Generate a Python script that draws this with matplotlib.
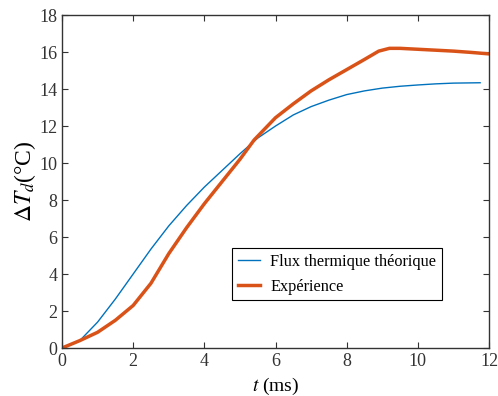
import numpy as np
import matplotlib.pyplot as plt

# values
t_theo = [0, 0.5, 1, 1.5, 2, 2.5, 3, 3.5, 4, 4.5, 5, 5.5, 6, 6.5, 7, 7.5, 8, 8.5, 9, 9.5, 10, 10.5, 11, 11.75]
dT_theo = [0, 0.4, 1.4, 2.65, 4.0, 5.35, 6.6, 7.7, 8.7, 9.6, 10.5, 11.35, 12.0, 12.6, 13.05, 13.4, 13.7, 13.9, 14.05, 14.15, 14.22, 14.28, 14.32, 14.34]

t_exp = [0, 0.5, 1, 1.5, 2, 2.5, 3, 3.5, 4, 4.5, 5, 5.4, 6, 6.5, 7, 7.5, 8, 8.5, 8.9, 9.2, 9.5, 10, 10.5, 11, 11.5, 12]
dT_exp = [0, 0.4, 0.85, 1.5, 2.3, 3.5, 5.1, 6.5, 7.8, 9.0, 10.2, 11.25, 12.45, 13.2, 13.9, 14.5, 15.05, 15.6, 16.05, 16.2, 16.2, 16.15, 16.1, 16.05, 15.98, 15.9]

plt.rcParams['font.family'] = ['Liberation Serif', 'DejaVu Serif']
plt.rcParams['mathtext.fontset'] = 'stix'

fig = plt.figure(figsize=(4.98, 3.96), dpi=100)
ax = fig.add_axes([0.1245, 0.1212, 0.8575, 0.8408])

ax.plot(t_theo, dT_theo, color='#0072BD', lw=1.0, label='Flux thermique théorique')
ax.plot(t_exp, dT_exp, color='#D95319', lw=2.5, label='Expérience')

ax.set_xlim(0, 12)
ax.set_ylim(0, 18)
ax.set_xticks(np.arange(0, 13, 2))
ax.set_yticks(np.arange(0, 19, 2))
ax.tick_params(direction='in', top=True, right=True, labelsize=13, colors='#333333', length=4)
for s in ax.spines.values():
    s.set_color('#333333')
    s.set_linewidth(1.0)

ax.set_xlabel(r'$t$ (ms)', fontsize=14)
ax.set_ylabel(r'$\Delta T_d$(°C)', fontsize=17, labelpad=1)

leg = ax.legend(loc='upper left', bbox_to_anchor=(0.398, 0.30), fontsize=11.7,
                fancybox=False, edgecolor='black', framealpha=1, borderaxespad=0,
                handlelength=1.4, handletextpad=0.6, labelspacing=0.55, borderpad=0.35)
leg.get_frame().set_linewidth(0.8)

fig.savefig('out.png', dpi=100)
